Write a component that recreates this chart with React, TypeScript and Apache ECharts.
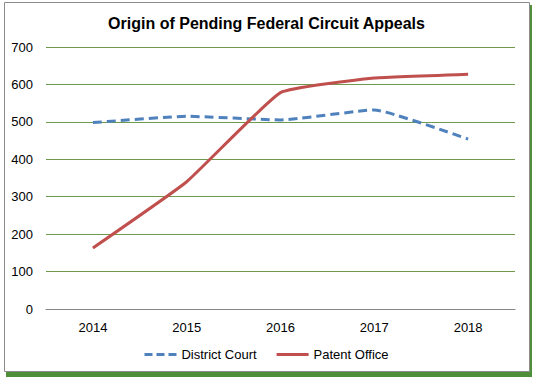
import React, { useEffect, useRef } from "react";
import * as echarts from "echarts";

const years = ["2014", "2015", "2016", "2017", "2018"];
const districtCourt = [498, 515, 505, 532, 454];
const patentOffice = [163, 340, 578, 617, 627];
const yTicks = { min: 0, max: 700, interval: 100 };

export default function App() {
  const ref = useRef<HTMLDivElement>(null);
  useEffect(() => {
    if (!ref.current) return;
    const chart = echarts.init(ref.current, null, { renderer: "svg" });
    const font = "'Liberation Sans', Arial, sans-serif";
    chart.setOption({
      animation: false,
      backgroundColor: "#ffffff",
      textStyle: { fontFamily: font },
      graphic: [
        {
          type: "rect",
          shape: { x: 6, y: 5, width: 526, height: 372 },
          style: { fill: "#4f8f3a" },
          silent: true,
          z: -10,
        },
        {
          type: "rect",
          shape: { x: 4.5, y: 2.5, width: 525, height: 369 },
          style: { fill: "#ffffff", stroke: "#8c8c8c", lineWidth: 1 },
          silent: true,
          z: -9,
        },
      ],
      title: {
        text: "Origin of Pending Federal Circuit Appeals",
        left: "center",
        top: 10,
        textStyle: { fontFamily: font, fontSize: 16, fontWeight: "bold", color: "#000" },
      },
      legend: {
        top: 343,
        left: "center",
        itemWidth: 32,
        itemHeight: 3,
        itemGap: 20,
        textStyle: { fontFamily: font, fontSize: 13, color: "#000" },
        data: [
          {
            name: "District Court",
            icon: "path://M0,0H8V3H0Z M12,0H20V3H12Z M24,0H32V3H24Z",
            itemStyle: { color: "#4f81bd" },
          },
          {
            name: "Patent Office",
            icon: "rect",
            itemStyle: { color: "#c0504d" },
          },
        ],
      },
      grid: { left: 46, right: 18, top: 47, bottom: 71 },
      xAxis: {
        type: "category",
        data: years,
        boundaryGap: true,
        axisLine: { show: true, lineStyle: { color: "#868686", width: 1 } },
        axisTick: { show: false },
        axisLabel: { fontFamily: font, fontSize: 13, color: "#000", margin: 12 },
      },
      yAxis: {
        type: "value",
        min: yTicks.min,
        max: yTicks.max,
        interval: yTicks.interval,
        axisLine: { show: false },
        axisTick: { show: false },
        axisLabel: { fontFamily: font, fontSize: 13, color: "#000", margin: 13 },
        splitLine: { lineStyle: { color: "#6f9a4c", width: 1 } },
      },
      series: [
        {
          name: "District Court",
          type: "line",
          data: districtCourt,
          smooth: 0.12,
          symbol: "none",
          lineStyle: { color: "#4f81bd", width: 3, type: [9, 5] },
          itemStyle: { color: "#4f81bd" },
        },
        {
          name: "Patent Office",
          type: "line",
          data: patentOffice,
          smooth: 0.12,
          symbol: "none",
          lineStyle: { color: "#c0504d", width: 3 },
          itemStyle: { color: "#c0504d" },
        },
      ],
    });
    return () => chart.dispose();
  }, []);
  return (
    <div
      ref={ref}
      style={{ position: "fixed", left: 0, top: 0, width: 533, height: 380 }}
    />
  );
}
